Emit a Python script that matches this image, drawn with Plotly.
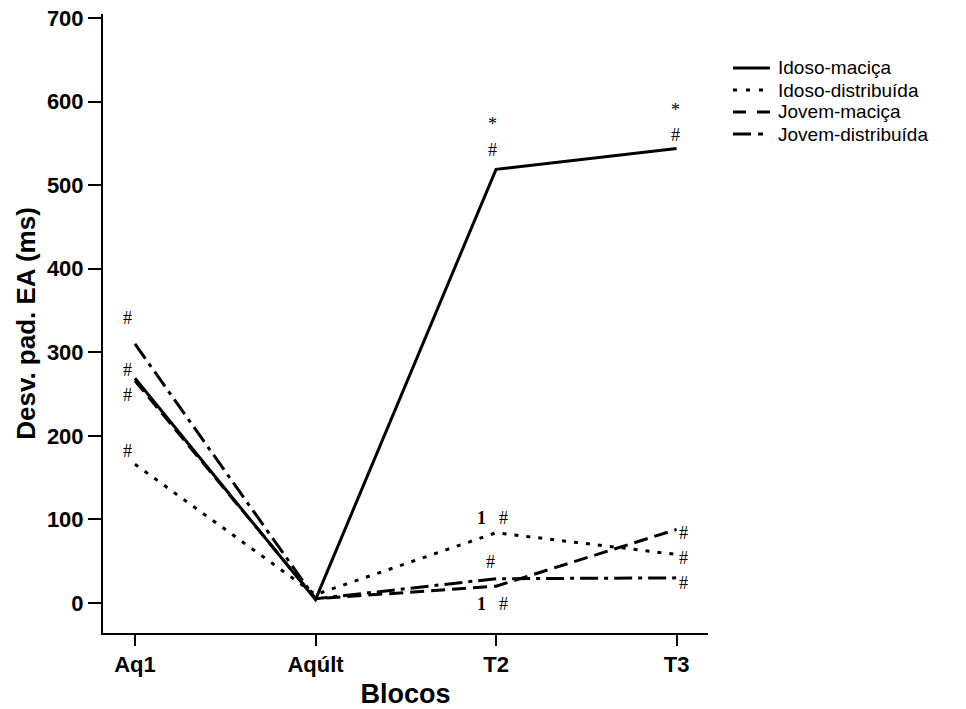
import plotly.graph_objects as go

blocos = ["Aq1", "Aqúlt", "T2", "T3"]
idoso_macica = [269, 4, 519, 544]
idoso_distribuida = [166, 10, 84, 58]
jovem_macica = [266, 5, 20, 88]
jovem_distribuida = [310, 5, 29, 30]

series_names = ["Idoso-maciça", "Idoso-distribuída", "Jovem-maciça", "Jovem-distribuída"]
series_values = [idoso_macica, idoso_distribuida, jovem_macica, jovem_distribuida]
series_dash = ["solid", "4px,8px", "14px,7px", "18px,6px,4px,6px"]
legend_dash = ["solid", "4px,9px", "13px,11px", "18px,7px,5px,20px"]

# annotation marks: (x index, y value, text)
marks = [
    (-0.04, 341, "#"), (-0.04, 279, "#"), (-0.04, 249, "#"), (-0.04, 182, "#"),
    (1.98, 573, "*"), (1.98, 542, "#"),
    (1.922, 102, "<b>1</b>"), (2.044, 102, "#"),
    (1.967, 49, "#"),
    (1.922, -1, "<b>1</b>"), (2.044, -1, "#"),
    (2.994, 590, "*"), (2.994, 560, "#"),
    (3.04, 84, "#"), (3.04, 54, "#"), (3.04, 24, "#"),
]

fig = go.Figure()
for name, vals, dash in zip(series_names, series_values, series_dash):
    fig.add_trace(go.Scatter(
        x=list(range(len(blocos))), y=vals, mode="lines", name=name,
        line=dict(color="black", width=3, dash=dash), showlegend=False,
    ))

for x, y, t in marks:
    fig.add_annotation(x=x, y=y, text=t, showarrow=False, xref="x", yref="y",
                       font=dict(family="Liberation Serif", size=18, color="black"))

# manual legend (paper coordinates)
leg_x0, leg_x1, leg_tx = 1.0413, 1.1025, 1.112
leg_y = [0.9128, 0.8772, 0.8417, 0.8061]
for name, dash, yy in zip(series_names, legend_dash, leg_y):
    fig.add_shape(type="line", xref="paper", yref="paper", x0=leg_x0, x1=leg_x1, y0=yy, y1=yy,
                  line=dict(color="black", width=3, dash=dash))
    fig.add_annotation(x=leg_tx, y=yy, xref="paper", yref="paper", text=name, showarrow=False,
                       xanchor="left", yanchor="middle",
                       font=dict(family="Liberation Sans", size=19, color="black"))

fig.update_layout(
    width=966, height=709,
    margin=dict(l=103, r=258, t=14, b=76),
    plot_bgcolor="white", paper_bgcolor="white",
    showlegend=False,
    xaxis=dict(
        range=[-0.177, 3.174], tickmode="array",
        tickvals=list(range(len(blocos))), ticktext=blocos,
        showline=True, linecolor="black", linewidth=2,
        ticks="outside", ticklen=11, tickwidth=1.5, tickcolor="black",
        showgrid=False, zeroline=False, automargin=False,
        tickfont=dict(family="Liberation Sans", size=22, color="black", weight="bold"),
        title=dict(text="<b>Blocos</b>", font=dict(family="Liberation Sans", size=27, color="black"), standoff=8),
    ),
    yaxis=dict(
        range=[-36, 705], tickvals=[0, 100, 200, 300, 400, 500, 600, 700],
        showline=True, linecolor="black", linewidth=2,
        ticks="outside", ticklen=13, tickwidth=1.5, tickcolor="black",
        showgrid=False, zeroline=False, automargin=False,
        tickfont=dict(family="Liberation Sans", size=22, color="black", weight="bold"),
        title=dict(text="<b>Desv. pad. EA (ms)</b>", font=dict(family="Liberation Sans", size=26, color="black"), standoff=4),
    ),
)

fig.write_html("out.html")
